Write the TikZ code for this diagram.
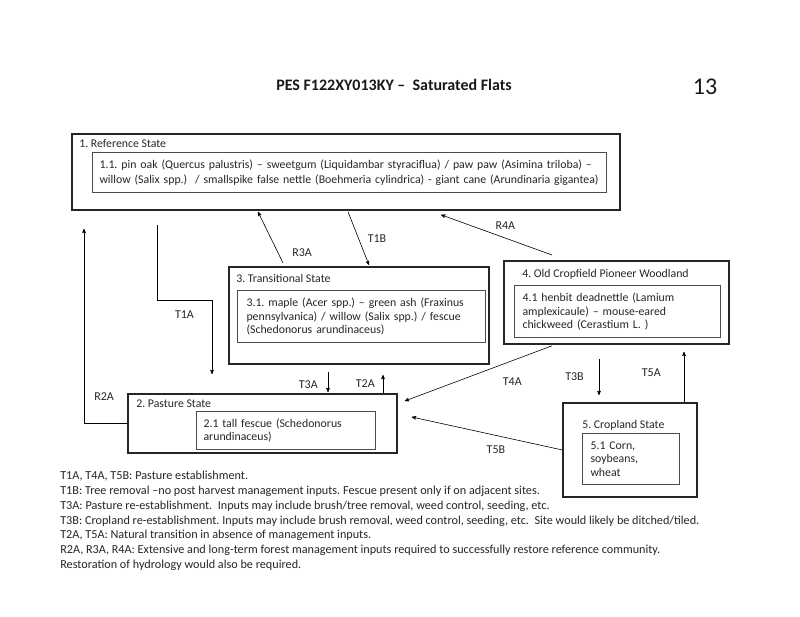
\documentclass[tikz,border=0pt]{standalone}
\usepackage{fontspec}
\setmainfont{Carlito}
\usetikzlibrary{positioning}
\usetikzlibrary{arrows}

\begin{document}
\frenchspacing
\begin{tikzpicture}[x=1pt,y=-1pt,->,>=stealth',semithick,
    outer/.style={draw=black!85,line width=1.8pt,anchor=north west,inner sep=0pt},
    inner/.style={draw=black!70,line width=1.1pt,anchor=north west,align=left,
                  inner ysep=0pt,text=black!85,font=\fontsize{11.8}{13.8}\selectfont},
    head/.style={inner sep=0pt,text=black!85,font=\fontsize{11.8}{14}\selectfont},
    lbl/.style={inner sep=0pt,text=black!85,font=\fontsize{12}{13}\selectfont}]
\useasboundingbox[fill=white] (0,0) rectangle (800,617);

\node[font=\bfseries\fontsize{16}{19}\selectfont,text=black!90] (title) at (394,85)
  {PES F122XY013KY –\ \ Saturated Flats};
\node[font=\fontsize{24}{28}\selectfont,text=black!90] (pg) at (705,87) {13};

% states
\node[outer,minimum width=548pt,minimum height=76pt] (s1) at (71,133) {};
\node[head,below right=6pt and 8pt of s1.north west,anchor=north west] (h1) {1. Reference State};
\node[inner,inner xsep=7pt,text width=500pt,minimum height=40pt,
      font=\fontsize{11.8}{15.5}\selectfont] (c1) at (92,152)
  {1.1. pin oak (Quercus palustris) – sweetgum (Liquidambar styraciflua) / paw paw (Asimina triloba) –\\
   willow (Salix spp.)\ \ / smallspike false nettle (Boehmeria cylindrica) - giant cane (Arundinaria gigantea)};

\node[outer,minimum width=260pt,minimum height=97pt] (s3) at (228,266) {};
\node[head,below right=8.5pt and 8pt of s3.north west,anchor=north west] (h3) {3. Transitional State};
\node[inner,inner xsep=9pt,text width=230pt,minimum height=52pt] (c3) at (237,290)
  {3.1. maple (Acer spp.) – green ash (Fraxinus\\ pennsylvanica) / willow (Salix spp.) / fescue\\
   (Schedonorus arundinaceus)};

\node[outer,minimum width=225pt,minimum height=83pt] (s4) at (503,260) {};
\node[head,below right=9.5pt and 19pt of s4.north west,anchor=north west] (h4) {4. Old Cropfield Pioneer Woodland};
\node[inner,inner xsep=8pt,text width=190pt,minimum height=52pt] (c4) at (514,285)
  {4.1 henbit deadnettle (Lamium\\ amplexicaule) – mouse-eared\\ chickweed (Cerastium L. )};

\node[outer,minimum width=269pt,minimum height=59pt] (s2) at (127,393) {};
\node[head,below right=7pt and 9pt of s2.north west,anchor=north west] (h2) {2. Pasture State};
\node[inner,inner xsep=7pt,text width=165pt,minimum height=38pt] (c2) at (196,411)
  {2.1 tall fescue (Schedonorus\\ arundinaceus)};

\node[outer,minimum width=134pt,minimum height=94pt] (s5) at (562,402) {};
\node[head,below right=18.5pt and 20pt of s5.north west,anchor=north west] (h5) {5. Cropland State};
\node[inner,inner xsep=8pt,text width=81pt,minimum height=51pt] (c5) at (582,433)
  {5.1 Corn,\\ soybeans,\\ wheat};

% transitions
\draw ([xshift=86pt,yshift=-14pt]s1.south west) -- ++(0,76)
  -| node[lbl,pos=0.25,below=10pt] {T1A} ([xshift=85pt,yshift=19pt]s2.north west);
\draw (s2.west) -| node[lbl,pos=0.57,right=10pt] {R2A} ([xshift=13pt,yshift=-18pt]s1.south west);
\draw ([xshift=55pt,yshift=3pt]s3.north west) -- node[lbl,pos=0.2,right=14pt] {R3A}
  ([xshift=187pt,yshift=-1pt]s1.south west);
\draw ([xshift=277pt,yshift=-1pt]s1.south west) -- node[lbl,pos=0.5,right=9pt] {T1B}
  ([xshift=141pt,yshift=1pt]s3.north west);
\draw ([xshift=49pt,yshift=5pt]s4.north west) -- node[lbl,pos=0.42,above=8pt] {R4A}
  ([xshift=370pt,yshift=-4pt]s1.south west);
\draw ([xshift=100pt,yshift=-7pt]s3.south west) -- node[lbl,pos=0.64,left=10pt] {T3A}
  ([xshift=201pt,yshift=1pt]s2.north west);
\draw ([xshift=256pt]s2.north west) -- node[lbl,left=8pt] {T2A}
  ([xshift=256pt,yshift=18pt]s2.north west);
\draw ([xshift=49pt,yshift=-1pt]s4.south west) -- node[lbl,pos=0.27,below=17pt] {T4A}
  ([xshift=7pt,yshift=-8pt]s2.north east);
\draw (s5.west) -- node[lbl,pos=0.44,below=10pt] {T5B}
  ([xshift=14pt,yshift=-24pt]s2.north east);
\draw ([xshift=96pt,yshift=-14pt]s4.south west) -- node[lbl,left=15pt] {T3B}
  ([xshift=37pt,yshift=7pt]s5.north west);
\draw ([xshift=122pt]s5.north west) -- node[lbl,pos=0.58,left=23pt] {T5A}
  ([xshift=181pt,yshift=-7pt]s4.south west);

% key
\node[anchor=north west,align=left,inner sep=0pt,text=black!85,
      font=\fontsize{12.2}{14.8}\selectfont] (key) at (60,471)
  {T1A, T4A, T5B: Pasture establishment.\\
   T1B: Tree removal –no post harvest management inputs. Fescue present only if on adjacent sites.\\
   T3A: Pasture re-establishment.\ \ Inputs may include brush/tree removal, weed control, seeding, etc.\\
   T3B: Cropland re-establishment. Inputs may include brush removal, weed control, seeding, etc.\ \ Site would likely be ditched/tiled.\\
   T2A, T5A: Natural transition in absence of management inputs.\\
   R2A, R3A, R4A: Extensive and long-term forest management inputs required to successfully restore reference community.\\
   Restoration of hydrology would also be required.};
\end{tikzpicture}
\end{document}
